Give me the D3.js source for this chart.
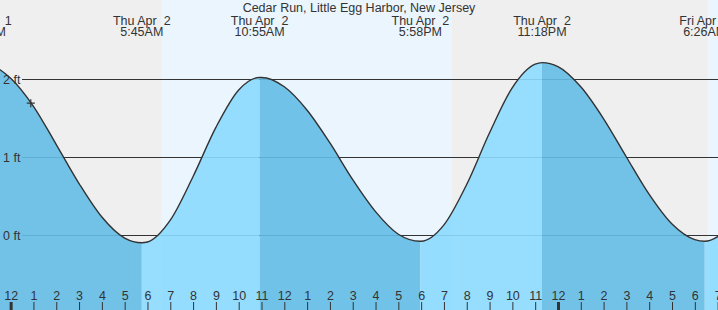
<!DOCTYPE html>
<html>
<head>
<meta charset="utf-8">
<script src="https://cdn.jsdelivr.net/npm/d3@7"></script>
<style>
  body { margin: 0; background: #fff; }
  svg { display: block; font-family: "Liberation Sans", Arial, sans-serif; }
</style>
</head>
<body>
<div id="chart"></div>
<script>
// Tide chart data

var chartTitle = "Cedar Run, Little Egg Harbor, New Jersey";

// high / low tides
var extremeTimes = ["2020-04-01T22:42", "2020-04-02T05:45", "2020-04-02T10:55", "2020-04-02T17:58", "2020-04-02T23:18", "2020-04-03T06:26"];
var extremeHeights = [2.2, -0.1, 2.02, -0.08, 2.21, -0.08];
var extremeDays = ["Wed Apr  1", "Thu Apr  2", "Thu Apr  2", "Thu Apr  2", "Thu Apr  2", "Fri Apr  3"];
var extremeClock = ["10:42PM", "5:45AM", "10:55AM", "5:58PM", "11:18PM", "6:26AM"];

// hourly heights (ft), starting Wed 11PM
var hourlyStart = "2020-04-01T23:00";
var hourlyHeights = [2.19, 2.01, 1.65, 1.16, 0.66, 0.23, -0.04, -0.09, 0.19, 0.75, 1.38, 1.86,
  2.02, 1.90, 1.60, 1.18, 0.71, 0.30, 0.01, -0.08, 0.13, 0.65, 1.31, 1.89,
  2.19, 2.16, 1.90, 1.49, 1.00, 0.52, 0.14, -0.06, -0.02, 0.32];

// sunrise / sunset
var sunTimes = ["2020-04-02T06:38", "2020-04-02T19:21", "2020-04-03T06:36"];

// current time marker
var nowTime = "2020-04-02T00:53";
var nowHeight = 1.69;

var yTicks = [0, 1, 2];
var domainTimes = ["2020-04-01T23:32", "2020-04-03T07:01"];

// SVG Dimensions
var svgWidth = 718;
var svgHeight = 310;

var parseTime = d3.timeParse("%Y-%m-%dT%H:%M");

var svg = d3.select("#chart")
  .append("svg")
  .attr("width", svgWidth)
  .attr("height", svgHeight);

// Scales
var xScale = d3.scaleTime()
  .domain(domainTimes.map(parseTime))
  .range([0, svgWidth]);

var yScale = d3.scaleLinear()
  .domain([0, 2])
  .range([235, 79]);

// Day / night background
var sunDates = sunTimes.map(parseTime);
var bandEdges = [xScale.domain()[0]].concat(sunDates).concat([xScale.domain()[1]]);
var bands = d3.range(bandEdges.length - 1).map(function (i) {
  return { start: bandEdges[i], end: bandEdges[i + 1], day: i % 2 === 1 };
});

svg.append("g").selectAll("rect")
  .data(bands)
  .enter()
  .append("rect")
  .attr("x", d => xScale(d.start))
  .attr("y", 0)
  .attr("width", d => xScale(d.end) - xScale(d.start))
  .attr("height", svgHeight)
  .attr("fill", d => d.day ? "#eaf5fe" : "#efefef");

// Grid lines
svg.append("g").selectAll("line")
  .data(yTicks)
  .enter()
  .append("line")
  .attr("x1", 22)
  .attr("x2", svgWidth)
  .attr("y1", d => Math.round(yScale(d)) + 0.5)
  .attr("y2", d => Math.round(yScale(d)) + 0.5)
  .attr("stroke", "#333")
  .attr("stroke-width", 1);

// Build curve points
var startDate = parseTime(hourlyStart);
var points = hourlyHeights.map(function (h, i) {
  return { t: d3.timeHour.offset(startDate, i), h: h };
});
extremeTimes.forEach(function (s, i) {
  points.push({ t: parseTime(s), h: extremeHeights[i] });
});
points.sort((a, b) => a.t - b.t);

var area = d3.area()
  .x(d => xScale(d.t))
  .y0(svgHeight)
  .y1(d => yScale(d.h))
  .curve(d3.curveMonotoneX);

var line = d3.line()
  .x(d => xScale(d.t))
  .y(d => yScale(d.h))
  .curve(d3.curveMonotoneX);

svg.append("clipPath")
  .attr("id", "tide-clip")
  .append("path")
  .attr("d", area(points));

// Rising (light) / falling (dark) fill
var extremeDates = extremeTimes.map(parseTime);
var segEdges = extremeDates.concat([d3.timeHour.offset(xScale.domain()[1], 2)]);
var segments = d3.range(segEdges.length - 1).map(function (i) {
  return { start: segEdges[i], end: segEdges[i + 1], falling: extremeHeights[i] > 1 };
});

svg.append("g")
  .attr("clip-path", "url(#tide-clip)")
  .selectAll("rect")
  .data(segments)
  .enter()
  .append("rect")
  .attr("x", d => xScale(d.start))
  .attr("y", 0)
  .attr("width", d => xScale(d.end) - xScale(d.start))
  .attr("height", svgHeight)
  .attr("fill", d => d.falling ? "#64bce5" : "#8cdaff")
  .attr("fill-opacity", 0.9);

svg.append("path")
  .attr("d", line(points))
  .attr("fill", "none")
  .attr("stroke", "#333")
  .attr("stroke-width", 1.4);

// y labels on top of the fill
svg.append("g").selectAll("text")
  .data(yTicks)
  .enter()
  .append("text")
  .attr("x", 3)
  .attr("y", d => yScale(d) + 4.5)
  .attr("font-size", "12.5px")
  .attr("fill", "#333")
  .text(d => d + " ft");

// Current time marker
var nx = xScale(parseTime(nowTime));
var ny = yScale(nowHeight);
svg.append("path")
  .attr("d", `M${nx - 4},${ny}H${nx + 4}M${nx},${ny - 4}V${ny + 4}`)
  .attr("stroke", "#333")
  .attr("stroke-width", 1.2);

// Title
svg.append("text")
  .attr("x", svgWidth / 2)
  .attr("y", 12)
  .attr("text-anchor", "middle")
  .attr("font-size", "12.5px")
  .attr("fill", "#333")
  .text(chartTitle);

// High / low labels
var labels = svg.append("g").selectAll("text")
  .data(extremeDates)
  .enter()
  .append("text")
  .attr("text-anchor", "middle")
  .attr("font-size", "12.5px")
  .attr("fill", "#333")
  .style("white-space", "pre");

labels.append("tspan")
  .attr("x", d => xScale(d))
  .attr("y", 24.5)
  .text((d, i) => extremeDays[i]);

labels.append("tspan")
  .attr("x", d => xScale(d))
  .attr("y", 36)
  .text((d, i) => extremeClock[i]);

// Hour axis
var xAxis = d3.axisTop(xScale)
  .ticks(d3.timeHour.every(1))
  .tickFormat(d3.timeFormat("%-I"))
  .tickSize(8)
  .tickPadding(2);

var axisGroup = svg.append("g")
  .attr("transform", `translate(0,${svgHeight})`)
  .call(xAxis);

axisGroup.select(".domain").remove();
axisGroup.selectAll("text")
  .attr("font-family", "Liberation Sans, Arial, sans-serif")
  .attr("font-size", "12.5px")
  .attr("fill", "#333");
axisGroup.selectAll("line")
  .attr("stroke", "#333")
  .attr("stroke-width", d => d.getHours() === 0 ? 3 : 1);
</script>
</body>
</html>
